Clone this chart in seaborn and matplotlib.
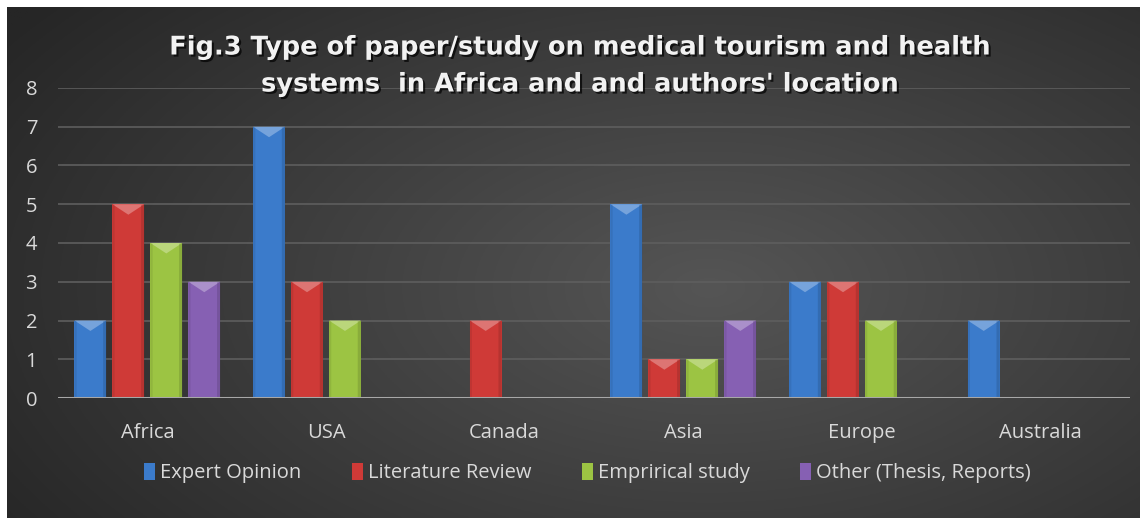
import numpy as np
import pandas as pd
import matplotlib
matplotlib.use("Agg")
import matplotlib.pyplot as plt
import matplotlib.patheffects as pe
from matplotlib.patches import Polygon, Patch
from matplotlib.colors import to_rgb
import seaborn as sns

# ---------------- data ----------------
regions = ["Africa", "USA", "Canada", "Asia", "Europe", "Australia"]
series = ["Expert Opinion", "Literature Review", "Emprirical study", "Other (Thesis, Reports)"]
expert_opinion = [2, 7, 0, 5, 3, 2]
literature_review = [5, 3, 2, 1, 3, 0]
empirical_study = [4, 2, 0, 1, 2, 0]
other_reports = [3, 0, 0, 2, 0, 0]
y_ticks = [0, 1, 2, 3, 4, 5, 6, 7, 8]
title_text = "Fig.3 Type of paper/study on medical tourism and health\nsystems  in Africa and and authors' location"

colors = ["#3b7bcb", "#cf3a37", "#9cc443", "#8660b3"]

values = [expert_opinion, literature_review, empirical_study, other_reports]
df = pd.DataFrame({
    "Region": [r for s in series for r in regions],
    "Type": [s for s in series for _ in regions],
    "Count": [v for vals in values for v in vals],
})

W, H = 1145, 525
sns.set_theme(style="dark")
plt.rcParams["font.family"] = ["Open Sans", "DejaVu Sans"]

fig = plt.figure(figsize=(W / 100, H / 100), dpi=100, facecolor="white")

# background with radial gradient
bg = fig.add_axes([7 / W, 7 / H, (1140 - 7) / W, (518 - 7) / H], zorder=-10)
gx, gy = np.meshgrid(np.linspace(0, 1, 600), np.linspace(0, 1, 300))
d = np.sqrt(((gx - 0.62) / 0.75) ** 2 + ((gy - 0.45) / 0.9) ** 2)
d = np.clip(d, 0, 1)
c_in = np.array(to_rgb("#555555"))
c_out = np.array(to_rgb("#262626"))
img = c_in[None, None, :] * (1 - d[..., None]) + c_out[None, None, :] * d[..., None]
bg.imshow(img, aspect="auto", extent=[0, 1, 0, 1], origin="lower")
bg.set_axis_off()

ax = fig.add_axes([58 / W, (H - 398) / H, (1130 - 58) / W, (398 - 88) / H])
ax.set_facecolor("none")

sns.barplot(data=df, x="Region", y="Count", hue="Type", hue_order=series,
            order=regions, palette=colors, width=0.85, gap=0.16,
            saturation=1, linewidth=0, legend=False, ax=ax, zorder=3)

# bevel effect on bars
for patch in ax.patches:
    h = patch.get_height()
    if h <= 0:
        continue
    x0 = patch.get_x()
    w = patch.get_width()
    top = patch.get_y() + h
    base = np.array(patch.get_facecolor()[:3])
    light = base + (1 - base) * 0.3
    dark = base * 0.7
    dep = 0.27
    ax.add_patch(Polygon([[x0, top], [x0 + w, top], [x0 + w * 0.5, top - dep]],
                         closed=True, facecolor=light, edgecolor="none", zorder=4))
    ax.add_patch(Polygon([[x0 + w * 0.9, top - 0.02], [x0 + w, top], [x0 + w, patch.get_y()],
                          [x0 + w * 0.9, patch.get_y()]],
                         closed=True, facecolor=dark, edgecolor="none", alpha=0.4, zorder=4))
    ax.add_patch(Polygon([[x0, top], [x0 + w * 0.07, top - 0.02], [x0 + w * 0.07, patch.get_y()],
                          [x0, patch.get_y()]],
                         closed=True, facecolor=dark, edgecolor="none", alpha=0.25, zorder=4))

ax.set_ylim(0, 8)
ax.set_xlim(-0.5, len(regions) - 0.5)
ax.set_yticks(y_ticks)
ax.set_yticklabels([str(t) for t in y_ticks])
ax.yaxis.grid(True, color="#5e5e5e", linewidth=1.2, zorder=0)
ax.xaxis.grid(False)
ax.axhline(0, color="#a8a8a8", linewidth=2.2, zorder=5)
for s in ax.spines.values():
    s.set_visible(False)
ax.set_xlabel("")
ax.set_ylabel("")
ax.tick_params(axis="y", colors="#d9d9d9", labelsize=14.5, length=0, pad=15)
ax.tick_params(axis="x", colors="#d9d9d9", labelsize=14.5, length=0, pad=18)

fig.text(0.507, (H - 66) / H, title_text, ha="center", va="center",
         fontsize=18.5, fontweight="bold", color="#f2f2f2", linespacing=1.55,
         family=["DejaVu Sans"],
         path_effects=[pe.withSimplePatchShadow(offset=(1.5, -1.5), shadow_rgbFace="black", alpha=0.7)])

handles = [Patch(facecolor=c, edgecolor="none") for c in colors]
leg = fig.legend(handles, series, loc="center", bbox_to_anchor=(0.513, (H - 473) / H),
                 ncol=4, frameon=False, fontsize=14.5, labelcolor="#d9d9d9",
                 handlelength=0.55, handleheight=0.9, handletextpad=0.25, columnspacing=2.5)

fig.savefig("out.png", dpi=100, facecolor="white")
